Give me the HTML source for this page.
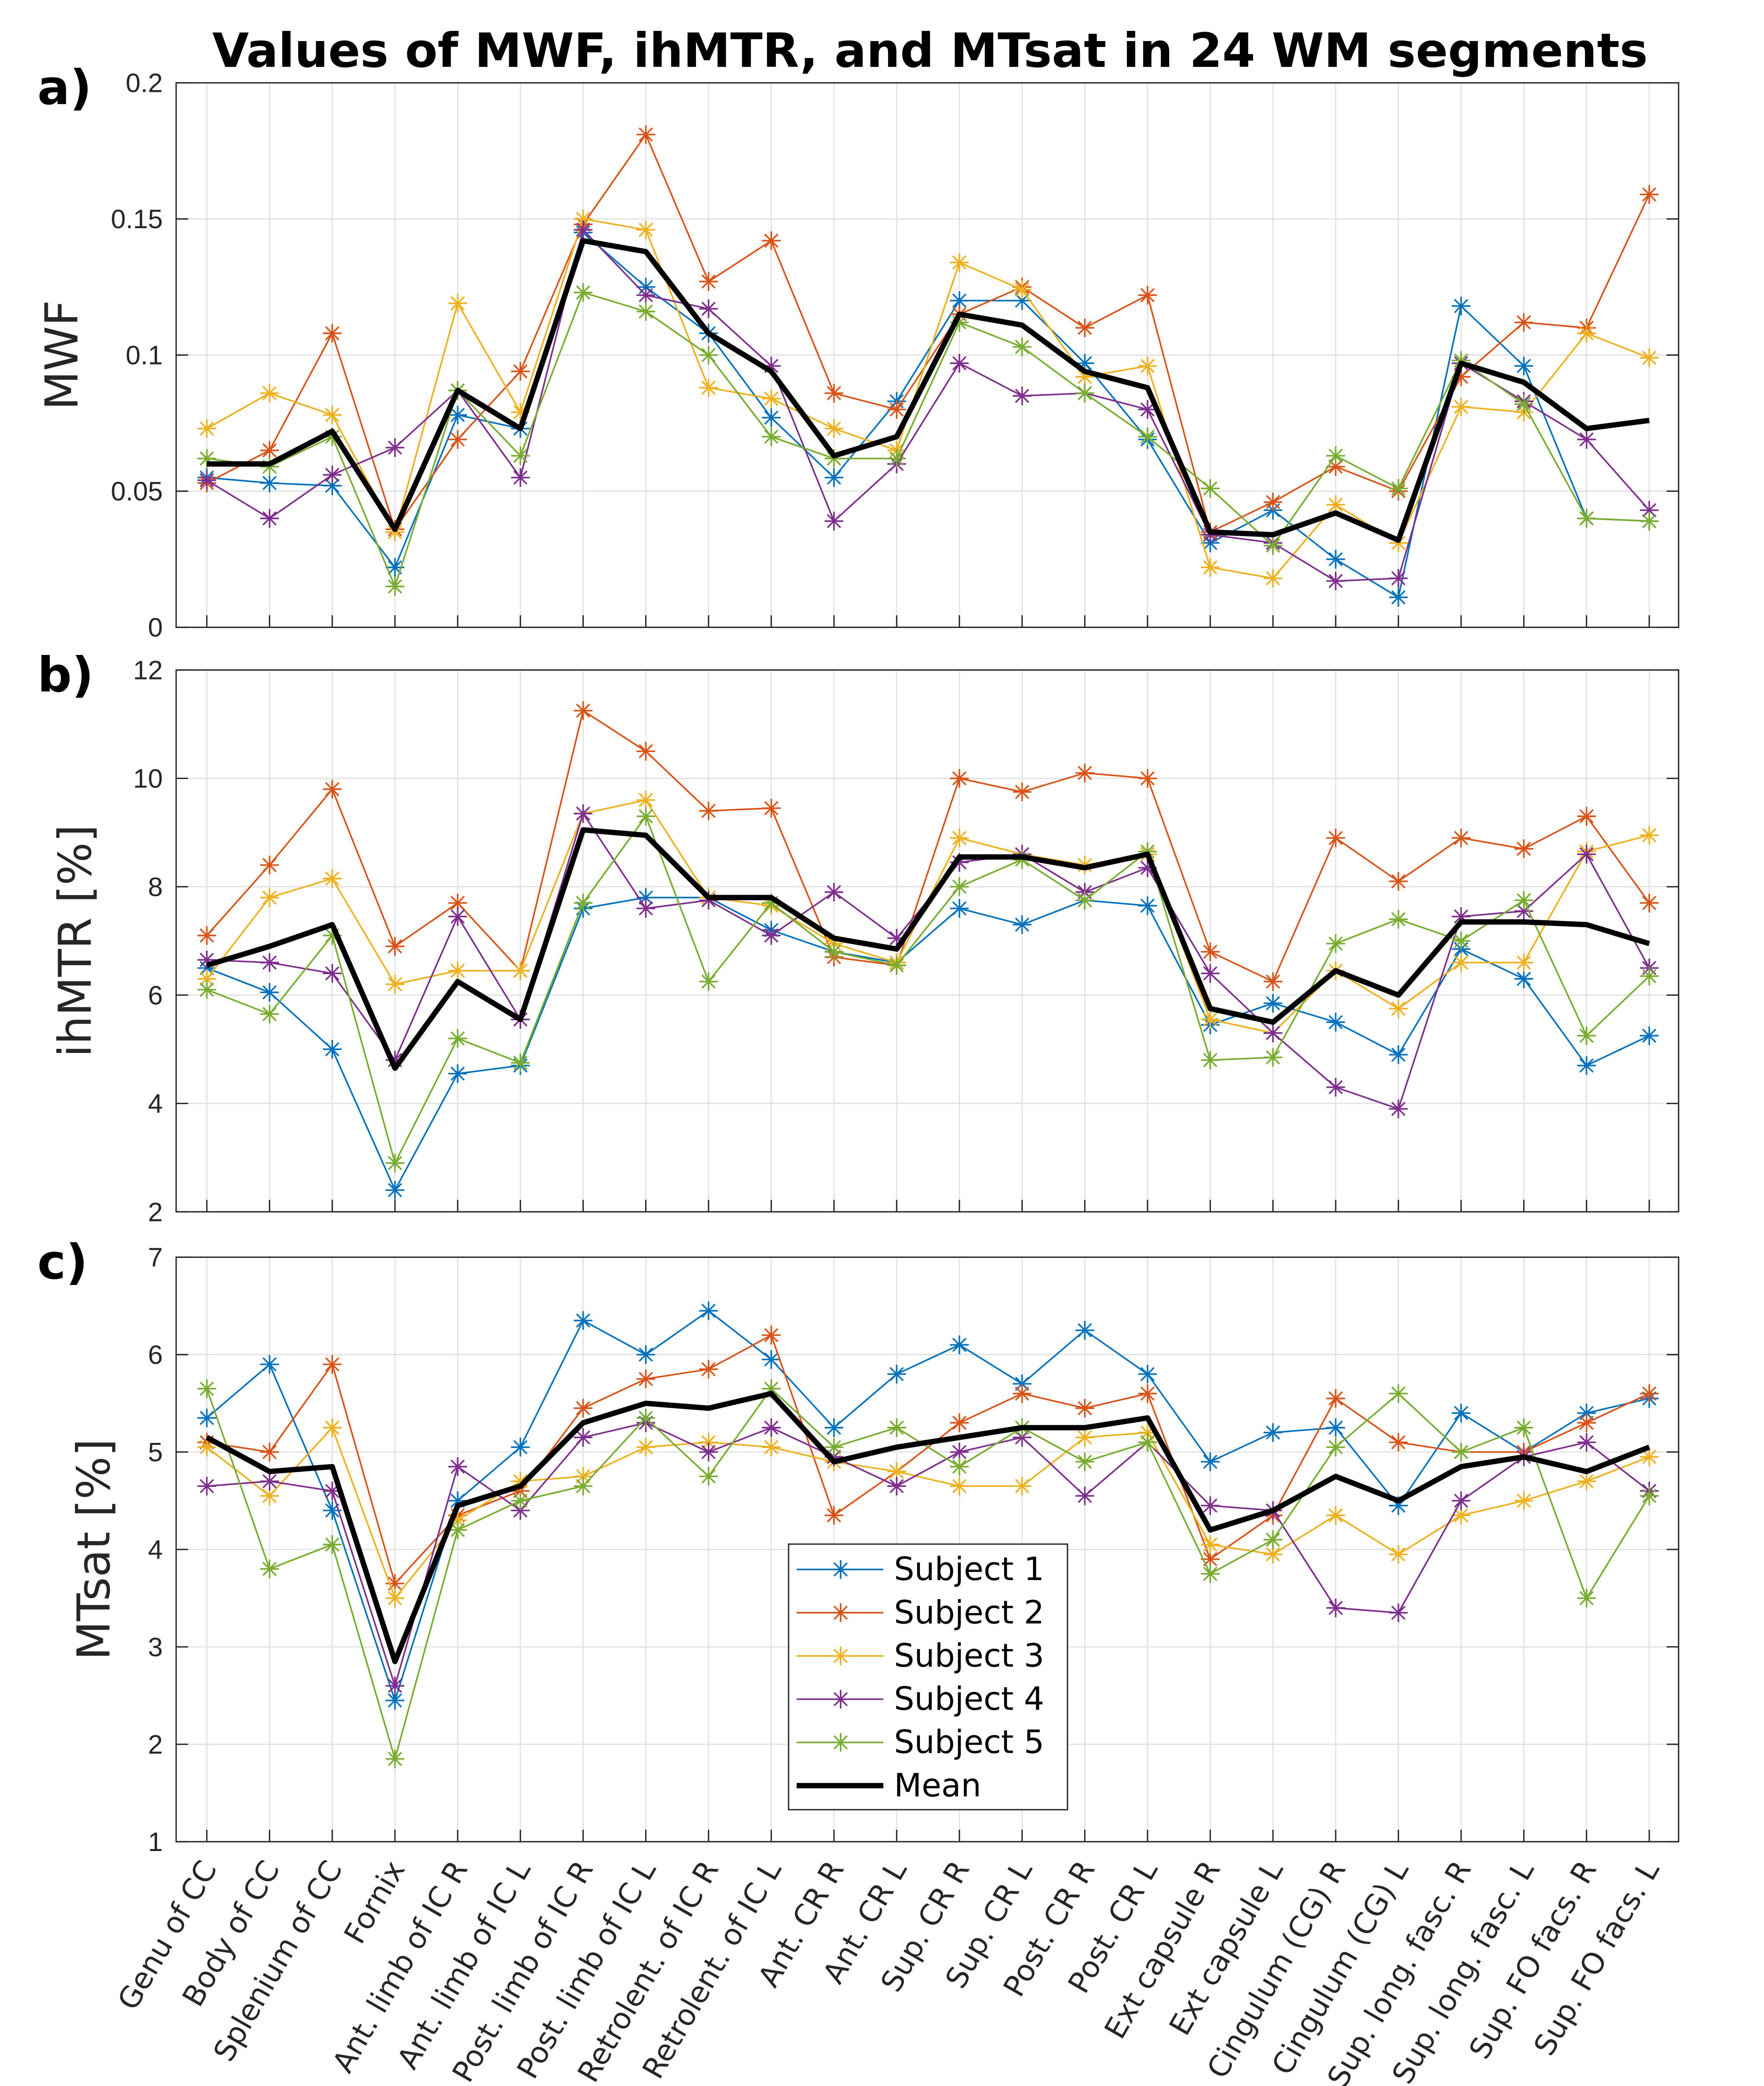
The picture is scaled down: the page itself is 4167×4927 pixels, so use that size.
<!DOCTYPE html>
<html><head><meta charset="utf-8"><style>html,body{margin:0;padding:0;background:#fff}svg{display:block}</style></head>
<body>
<svg id="chart" width="4167" height="4927" viewBox="0 0 1322 1563" xmlns="http://www.w3.org/2000/svg" font-family="'Liberation Sans','DejaVu Sans',sans-serif">
<rect width="1322" height="1563" fill="#fff"/>
<text x="697" y="50" text-anchor="middle" font-size="35.5" font-weight="bold" font-family="'DejaVu Sans',sans-serif">Values of MWF, ihMTR, and MTsat in 24 WM segments</text>
</svg>
<script>
const categories=["Genu of CC","Body of CC","Splenium of CC","Fornix","Ant. limb of IC R","Ant. limb of IC L","Post. limb of IC R","Post. limb of IC L","Retrolent. of IC R","Retrolent. of IC L","Ant. CR R","Ant. CR L","Sup. CR R","Sup. CR L","Post. CR R","Post. CR L","Ext capsule R","Ext capsule L","Cingulum (CG) R","Cingulum (CG) L","Sup. long. fasc. R","Sup. long. fasc. L","Sup. FO facs. R","Sup. FO facs. L"];
const seriesNames=["Subject 1","Subject 2","Subject 3","Subject 4","Subject 5","Mean"];
const mwfS1=[0.055,0.053,0.052,0.022,0.078,0.073,0.145,0.125,0.108,0.077,0.055,0.083,0.120,0.120,0.097,0.069,0.031,0.043,0.025,0.011,0.118,0.096,0.040,0.039];
const mwfS2=[0.053,0.065,0.108,0.036,0.069,0.094,0.148,0.181,0.127,0.142,0.086,0.080,0.115,0.125,0.110,0.122,0.035,0.046,0.059,0.050,0.092,0.112,0.110,0.159];
const mwfS3=[0.073,0.086,0.078,0.035,0.119,0.079,0.150,0.146,0.088,0.084,0.073,0.065,0.134,0.124,0.092,0.096,0.022,0.018,0.045,0.031,0.081,0.079,0.108,0.099];
const mwfS4=[0.054,0.040,0.056,0.066,0.087,0.055,0.146,0.122,0.117,0.096,0.039,0.060,0.097,0.085,0.086,0.080,0.034,0.031,0.017,0.018,0.097,0.083,0.069,0.043];
const mwfS5=[0.062,0.059,0.070,0.015,0.087,0.063,0.123,0.116,0.100,0.070,0.062,0.062,0.112,0.103,0.086,0.070,0.051,0.030,0.063,0.051,0.098,0.082,0.040,0.039];
const mwfMean=[0.060,0.060,0.072,0.036,0.087,0.073,0.142,0.138,0.108,0.094,0.063,0.070,0.115,0.111,0.094,0.088,0.035,0.034,0.042,0.032,0.097,0.090,0.073,0.076];
const ihS1=[6.5,6.05,5.0,2.4,4.55,4.7,7.6,7.8,7.8,7.2,6.8,6.6,7.6,7.3,7.75,7.65,5.45,5.85,5.5,4.9,6.85,6.3,4.7,5.25];
const ihS2=[7.1,8.4,9.8,6.9,7.7,6.45,11.25,10.5,9.4,9.45,6.7,6.55,10.0,9.75,10.1,10.0,6.8,6.25,8.9,8.1,8.9,8.7,9.3,7.7];
const ihS3=[6.3,7.8,8.15,6.2,6.45,6.45,9.35,9.6,7.8,7.65,6.95,6.6,8.9,8.6,8.4,8.6,5.55,5.3,6.45,5.75,6.6,6.6,8.65,8.95];
const ihS4=[6.65,6.6,6.4,4.8,7.45,5.55,9.35,7.6,7.75,7.1,7.9,7.05,8.45,8.6,7.9,8.35,6.4,5.3,4.3,3.9,7.45,7.55,8.6,6.5];
const ihS5=[6.1,5.65,7.1,2.9,5.2,4.75,7.7,9.3,6.25,7.7,6.8,6.55,8.0,8.5,7.75,8.65,4.8,4.85,6.95,7.4,7.0,7.75,5.25,6.35];
const ihMean=[6.55,6.9,7.3,4.65,6.25,5.55,9.05,8.95,7.8,7.8,7.05,6.85,8.55,8.55,8.35,8.6,5.75,5.5,6.45,6.0,7.35,7.35,7.3,6.95];
const mtS1=[5.35,5.9,4.4,2.45,4.5,5.05,6.35,6.0,6.45,5.95,5.25,5.8,6.1,5.7,6.25,5.8,4.9,5.2,5.25,4.45,5.4,5.0,5.4,5.55];
const mtS2=[5.1,5.0,5.9,3.65,4.35,4.6,5.45,5.75,5.85,6.2,4.35,4.8,5.3,5.6,5.45,5.6,3.9,4.35,5.55,5.1,5.0,5.0,5.3,5.6];
const mtS3=[5.05,4.55,5.25,3.5,4.3,4.7,4.75,5.05,5.1,5.05,4.9,4.8,4.65,4.65,5.15,5.2,4.05,3.95,4.35,3.95,4.35,4.5,4.7,4.95];
const mtS4=[4.65,4.7,4.6,2.6,4.85,4.4,5.15,5.3,5.0,5.25,4.95,4.65,5.0,5.15,4.55,5.1,4.45,4.4,3.4,3.35,4.5,4.95,5.1,4.6];
const mtS5=[5.65,3.8,4.05,1.85,4.2,4.5,4.65,5.35,4.75,5.65,5.05,5.25,4.85,5.25,4.9,5.1,3.75,4.1,5.05,5.6,5.0,5.25,3.5,4.55];
const mtMean=[5.15,4.8,4.85,2.85,4.45,4.65,5.3,5.5,5.45,5.6,4.9,5.05,5.15,5.25,5.25,5.35,4.2,4.4,4.75,4.5,4.85,4.95,4.8,5.05];
const mwfTicks=["0","0.05","0.1","0.15","0.2"];
const ihTicks=["2","4","6","8","10","12"];
const mtTicks=["1","2","3","4","5","6","7"];

const colors=["#0072BD","#D95319","#EDB120","#7E2F8E","#77AC30","#000"];
const svg=document.getElementById('chart');
const NS="http://www.w3.org/2000/svg";
function mk(tag,attrs,parent){const e=document.createElementNS(NS,tag);for(const k in attrs)e.setAttribute(k,attrs[k]);(parent||svg).appendChild(e);return e;}
const X0=132,X1=1258;
function xScale(i){return 155+i*(1236-155)/(categories.length-1);}
function star(g,x,y,c){const r=7;
  const d=`M${x-r},${y}L${x+r},${y}M${x},${y-r}L${x},${y+r}M${x-r*0.7},${y-r*0.7}L${x+r*0.7},${y+r*0.7}M${x-r*0.7},${y+r*0.7}L${x+r*0.7},${y-r*0.7}`;
  const p=mk('path',{d:d,stroke:c,'stroke-width':1.2,fill:'none'},g);
  
  }
function panel(key,top,bot,ticks,series,label,letter,ylabX){
  const vmin=parseFloat(ticks[0]),vmax=parseFloat(ticks[ticks.length-1]);
  const y=v=>bot-(v-vmin)/(vmax-vmin)*(bot-top);
  const g=mk('g',{});
  
  
  mk('rect',{x:X0,y:top,width:X1-X0,height:bot-top,fill:'#fff'},g);
  categories.forEach((c,i)=>{mk('line',{x1:xScale(i),x2:xScale(i),y1:top,y2:bot,stroke:'#e3e3e3','stroke-width':1},g);
    mk('line',{x1:xScale(i),x2:xScale(i),y1:bot,y2:bot-9,stroke:'#262626','stroke-width':1},g);});
  ticks.forEach(t=>{const yy=y(parseFloat(t));
    mk('line',{x1:X0,x2:X1,y1:yy,y2:yy,stroke:'#e3e3e3','stroke-width':1},g);
    mk('line',{x1:X0,x2:X0+9,y1:yy,y2:yy,stroke:'#262626','stroke-width':1},g);
    mk('line',{x1:X1,x2:X1-9,y1:yy,y2:yy,stroke:'#262626','stroke-width':1},g);
    const tx=mk('text',{x:122,y:yy+7,'text-anchor':'end','font-size':20,fill:'#262626'},g);tx.textContent=t;
    
    });
  mk('rect',{x:X0,y:top,width:X1-X0,height:bot-top,fill:'none',stroke:'#262626','stroke-width':1},g);
  series.forEach((s,k)=>{const sg=mk('g',{},g);
    
    
    const pts=s.map((v,i)=>xScale(i)+','+y(v)).join(' ');
    mk('polyline',{points:pts,fill:'none',stroke:colors[k],'stroke-width':k==5?4:1.2,'stroke-linejoin':'round'},sg);
    if(k<5)s.forEach((v,i)=>star(sg,xScale(i),y(v),colors[k]));});
  const yl=mk('text',{x:ylabX,y:(top+bot)/2,transform:`rotate(-90 ${ylabX} ${(top+bot)/2})`,'text-anchor':'middle','font-size':34,fill:'#262626','font-family':"'DejaVu Sans',sans-serif"});yl.textContent=label;
  
  
  const pl=mk('text',{x:28,y:top+16,'font-size':36,'font-weight':'bold','font-family':"'DejaVu Sans',sans-serif"});pl.textContent=letter;
  
  
}
panel('mwf',62,470,mwfTicks,[mwfS1,mwfS2,mwfS3,mwfS4,mwfS5,mwfMean],'MWF','a)',58);
panel('ihmtr',502,908,ihTicks,[ihS1,ihS2,ihS3,ihS4,ihS5,ihMean],'ihMTR [%]','b)',68);
panel('mtsat',942,1380,mtTicks,[mtS1,mtS2,mtS3,mtS4,mtS5,mtMean],'MTsat [%]','c)',82);
categories.forEach((c,i)=>{const x=xScale(i)+8,yy=1400;
  const t=mk('text',{x:x,y:yy,transform:`rotate(-60 ${x} ${yy})`,'text-anchor':'end','font-size':22,fill:'#262626','font-family':"'DejaVu Sans',sans-serif"});t.textContent=c;
  
  });
const lg=mk('g',{});


mk('rect',{x:591,y:1157,width:209,height:199,fill:'#fff',stroke:'#262626','stroke-width':1},lg);
seriesNames.forEach((n,k)=>{const yy=1176+k*32.4;
  const eg=mk('g',{},lg);
  
  
  mk('line',{x1:597,x2:662,y1:yy,y2:yy,stroke:colors[k],'stroke-width':k==5?4:1.2},eg);
  if(k<5)star(eg,630,yy,colors[k]);
  const t=mk('text',{x:670,y:yy+8,'font-size':24,fill:'#000','font-family':"'DejaVu Sans',sans-serif"},eg);t.textContent=n;});
</script>
</body></html>
